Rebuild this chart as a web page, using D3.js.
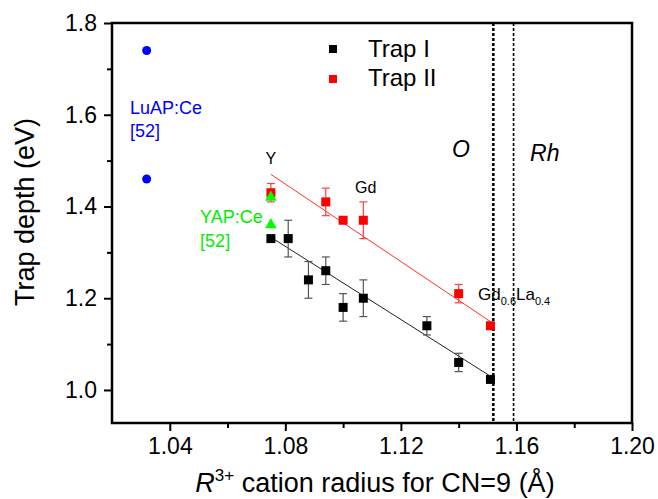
<!DOCTYPE html>
<html><head><meta charset="utf-8">
<script src="https://cdn.jsdelivr.net/npm/d3@7"></script>
<style>body{margin:0;background:#fff} text{font-family:Arial,"Liberation Sans",sans-serif}</style>
</head><body><svg id="c" width="658" height="499"></svg>
<script>
const radiusI = [1.075, 1.081, 1.088, 1.094, 1.100, 1.107, 1.129, 1.140, 1.151];
const depthI  = [1.33, 1.33, 1.24, 1.26, 1.18, 1.20, 1.14, 1.06, 1.023];
const errI    = [0.005, 0.04, 0.04, 0.03, 0.03, 0.04, 0.02, 0.02, 0.006];
const radiusII = [1.075, 1.094, 1.100, 1.107, 1.140, 1.151];
const depthII  = [1.43, 1.41, 1.37, 1.37, 1.21, 1.14];
const errII    = [0.02, 0.03, 0, 0.04, 0.02, 0];
const luapRadius = [1.032, 1.032];
const luapDepth  = [1.74, 1.46];
const yapRadius = [1.075, 1.075];
const yapDepth  = [1.42, 1.36];
const fitRadius = [1.075, 1.151];
const fitI  = [1.333, 1.03];
const fitII = [1.47, 1.149];
const boundaries = [1.152, 1.159];
const xTicks = [1.04, 1.08, 1.12, 1.16, 1.20];
const xMinor = [1.06, 1.10, 1.14, 1.18];
const yTicks = [1.0, 1.2, 1.4, 1.6, 1.8];
const yMinor = [1.1, 1.3, 1.5, 1.7];

const L = 112, R = 632, T = 23, B = 423;
const svg = d3.select("#c");
const x = d3.scaleLinear().domain([1.02, 1.20]).range([L, R]);
const y = d3.scaleLinear().domain([0.928, 1.8]).range([B, T]);

// axes
const gx = svg.append("g").attr("transform", `translate(0,${B})`)
  .call(d3.axisBottom(x).tickValues(xTicks).tickFormat(d3.format(".2f")).tickSize(8).tickPadding(7));
const gxm = svg.append("g").attr("transform", `translate(0,${B})`)
  .call(d3.axisBottom(x).tickValues(xMinor).tickFormat("").tickSize(5));
const gy = svg.append("g").attr("transform", `translate(${L},0)`)
  .call(d3.axisLeft(y).tickValues(yTicks).tickFormat(d3.format(".1f")).tickSize(8).tickPadding(7));
const gym = svg.append("g").attr("transform", `translate(${L},0)`)
  .call(d3.axisLeft(y).tickValues(yMinor).tickFormat("").tickSize(5));
[gx, gxm, gy, gym].forEach(g => {
  g.select(".domain").remove();
  g.selectAll("line").attr("stroke", "#000").attr("stroke-width", 2);
  g.selectAll("text").attr("font-size", 23).attr("fill", "#000").attr("font-family", "Arial, 'Liberation Sans', sans-serif");
});
svg.append("rect").attr("x", L).attr("y", T).attr("width", R - L).attr("height", B - T)
  .attr("fill", "none").attr("stroke", "#000").attr("stroke-width", 2.5);

// boundary dotted lines
svg.selectAll(".bd").data(boundaries).enter().append("line")
  .attr("x1", d => x(d)).attr("x2", d => x(d)).attr("y1", T).attr("y2", B)
  .attr("stroke", "#000").attr("stroke-width", (d, i) => i === 0 ? 2.5 : 1.6)
  .attr("stroke-dasharray", "3,2");

// fit lines
const line = d3.line().x(d => x(d[0])).y(d => y(d[1]));
svg.append("path").datum(fitRadius.map((r, i) => [r, fitI[i]])).attr("d", line)
  .attr("stroke", "#222").attr("stroke-width", 1).attr("fill", "none");
svg.append("path").datum(fitRadius.map((r, i) => [r, fitII[i]])).attr("d", line)
  .attr("stroke", "#ff3030").attr("stroke-width", 1).attr("fill", "none");

// error bars
function errorBars(rs, ds, es, color) {
  const g = svg.append("g").attr("stroke", color).attr("stroke-width", 1.2);
  rs.forEach((r, i) => {
    if (!es[i]) return;
    const cx = x(r), y1 = y(ds[i] + es[i]), y2 = y(ds[i] - es[i]);
    g.append("line").attr("x1", cx).attr("x2", cx).attr("y1", y1).attr("y2", y2);
    g.append("line").attr("x1", cx - 4).attr("x2", cx + 4).attr("y1", y1).attr("y2", y1);
    g.append("line").attr("x1", cx - 4).attr("x2", cx + 4).attr("y1", y2).attr("y2", y2);
  });
}
errorBars(radiusI, depthI, errI, "#555");
errorBars(radiusII, depthII, errII, "#ff4040");

// squares
const s = 9;
svg.selectAll(".sI").data(radiusI).enter().append("rect")
  .attr("x", d => x(d) - s / 2).attr("y", (d, i) => y(depthI[i]) - s / 2)
  .attr("width", s).attr("height", s).attr("fill", "#000");
svg.selectAll(".sII").data(radiusII).enter().append("rect")
  .attr("x", d => x(d) - s / 2).attr("y", (d, i) => y(depthII[i]) - s / 2)
  .attr("width", s).attr("height", s).attr("fill", "#ff0000");

// LuAP circles
svg.selectAll(".lu").data(luapRadius).enter().append("circle")
  .attr("cx", d => x(d)).attr("cy", (d, i) => y(luapDepth[i])).attr("r", 4.5).attr("fill", "#0000ff");
// YAP triangles
svg.selectAll(".yap").data(yapRadius).enter().append("path")
  .attr("transform", (d, i) => `translate(${x(d)},${y(yapDepth[i])})`)
  .attr("d", d3.symbol(d3.symbolTriangle, 60)).attr("fill", "#00ff00");

// annotations
function txt(xv, yv, str, size, color, opts = {}) {
  const t = svg.append("text").attr("x", x(xv)).attr("y", y(yv)).attr("font-size", size)
    .attr("fill", color).text(str);
  if (opts.anchor) t.attr("text-anchor", opts.anchor);
  if (opts.italic) t.attr("font-style", "italic");
  return t;
}
txt(1.075, 1.493, "Y", 16, "#000", {anchor: "middle"});
txt(1.1041, 1.429, "Gd", 16, "#000");
txt(1.0262, 1.6016, "LuAP:Ce", 18, "#0000ff");
txt(1.0262, 1.5515, "[52]", 18, "#0000ff");
txt(1.0505, 1.364, "YAP:Ce", 18, "#00ee00");
txt(1.0505, 1.312, "[52]", 18, "#00ee00");
txt(1.1377, 1.508, "O", 23, "#000", {italic: true});
txt(1.1647, 1.499, "Rh", 23, "#000", {italic: true});
const gl = txt(1.1467, 1.196, "", 17, "#000");
gl.append("tspan").text("Gd");
gl.append("tspan").attr("font-size", 11).attr("dy", 5).text("0.6");
gl.append("tspan").attr("dy", -5).text("La");
gl.append("tspan").attr("font-size", 11).attr("dy", 5).text("0.4");

// legend
const legend = [{label: "Trap I", color: "#000"}, {label: "Trap II", color: "#ff0000"}];
const lg = svg.append("g");
legend.forEach((d, i) => {
  lg.append("rect").attr("x", 329).attr("y", 45 + i * 30).attr("width", 8).attr("height", 8).attr("fill", d.color);
  lg.append("text").attr("x", 368).attr("y", 57 + i * 29).attr("font-size", 24).attr("fill", "#000").text(d.label);
});

// axis titles
const xt = svg.append("text").attr("x", (L + R) / 2 + 3).attr("y", 492).attr("text-anchor", "middle")
  .attr("font-size", 27).attr("fill", "#000");
xt.append("tspan").attr("font-style", "italic").text("R");
xt.append("tspan").attr("font-size", 17).attr("dy", -11).text("3+");
xt.append("tspan").attr("dy", 11).text(" cation radius for CN=9 (Å)");
svg.append("text").attr("transform", "translate(34,212) rotate(-90)").attr("text-anchor", "middle")
  .attr("font-size", 27).attr("fill", "#000").text("Trap depth (eV)");
</script></body></html>
